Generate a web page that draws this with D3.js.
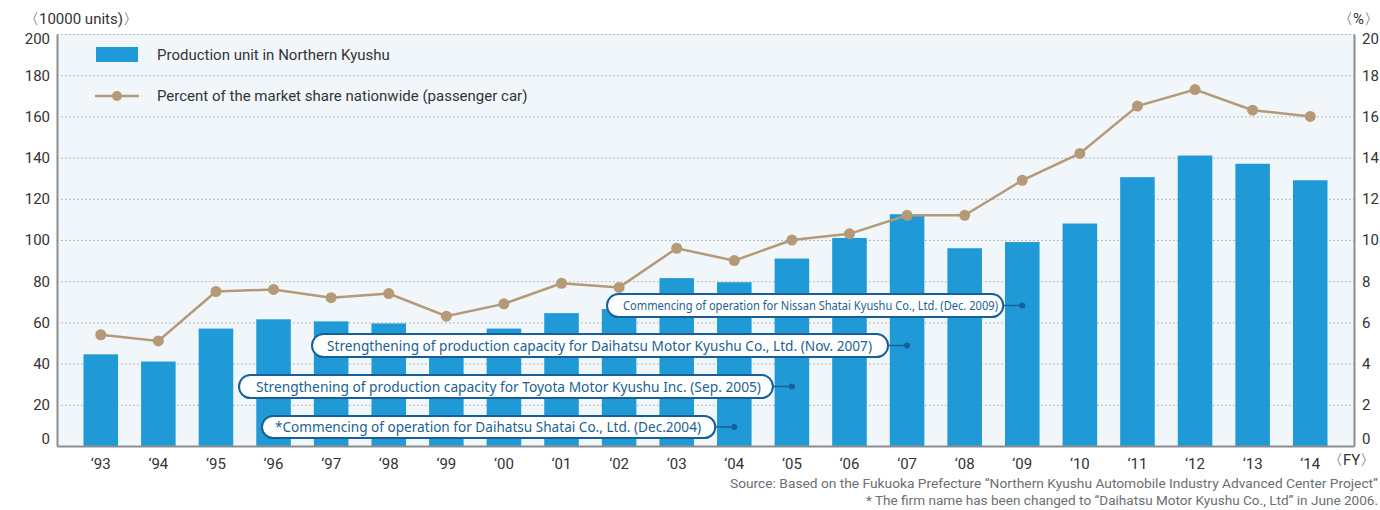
<!DOCTYPE html>
<html>
<head>
<meta charset="utf-8">
<script src="https://cdn.jsdelivr.net/npm/d3@7"></script>
<style>
  body { margin: 0; background: #fff; }
  svg { display: block; }
</style>
</head>
<body>
<script>
// fiscal years (x axis)
var years = ["93", "94", "95", "96", "97", "98", "99", "00", "01", "02", "03",
             "04", "05", "06", "07", "08", "09", "10", "11", "12", "13", "14"];
// production units in Northern Kyushu (10000 units)
var production = [44.5, 41, 57, 61.5, 60.5, 59.5, 48, 57, 64.5, 66.5, 81.5,
                  79.5, 91, 101, 112.5, 96, 99, 108, 130.5, 141, 137, 129];
// market share nationwide, passenger car (%)
var share = [5.4, 5.1, 7.5, 7.6, 7.2, 7.4, 6.3, 6.9, 7.9, 7.7, 9.6,
             9.0, 10.0, 10.3, 11.2, 11.2, 12.9, 14.2, 16.5, 17.3, 16.3, 16.0];
var leftTicks = [0, 20, 40, 60, 80, 100, 120, 140, 160, 180, 200];
var rightTicks = [0, 2, 4, 6, 8, 10, 12, 14, 16, 18, 20];

// event notes and the year each one points at
var noteTexts = [
    "Commencing of operation for Nissan Shatai Kyushu Co., Ltd. (Dec. 2009)",
    "Strengthening of production capacity for Daihatsu Motor Kyushu Co., Ltd. (Nov. 2007)",
    "Strengthening of production capacity for Toyota Motor Kyushu Inc.  (Sep. 2005)",
    "*Commencing of operation for Daihatsu Shatai Co., Ltd. (Dec.2004)"
];
var noteYears = ["09", "07", "05", "04"];

var w = 1380, h = 510;
var plotL = 57, plotR = 1354, plotT = 34, plotB = 446;

var svg = d3.select("body").append("svg")
    .attr("width", w)
    .attr("height", h)
    .style("font-family", "Roboto, 'Noto Sans', sans-serif");

var xScale = d3.scaleBand()
    .domain(years)
    .range([plotL, plotR])
    .paddingInner(0.4)
    .paddingOuter(0.46);

var yLeft = d3.scaleLinear().domain([0, 200]).range([plotB, plotT]);
var yRight = d3.scaleLinear().domain([0, 20]).range([plotB, plotT]);

// plot background
svg.append("rect")
    .attr("x", plotL)
    .attr("y", plotT)
    .attr("width", plotR - plotL)
    .attr("height", plotB - plotT)
    .attr("fill", "#f1f6fb");

// dotted grid
svg.append("g")
    .selectAll("line")
    .data(leftTicks.filter(function (d) { return d > 0; }))
    .enter()
    .append("line")
    .attr("x1", plotL)
    .attr("x2", plotR)
    .attr("y1", function (d) { return yLeft(d) + 0.5; })
    .attr("y2", function (d) { return yLeft(d) + 0.5; })
    .attr("stroke", "#a6a9ad")
    .attr("stroke-width", 1)
    .attr("stroke-dasharray", "1.5,2.5");

// bars
svg.append("g")
    .selectAll("rect")
    .data(production)
    .enter()
    .append("rect")
    .attr("x", function (d, i) { return xScale(years[i]); })
    .attr("y", function (d) { return yLeft(d); })
    .attr("width", xScale.bandwidth())
    .attr("height", function (d) { return yLeft(0) - yLeft(d); })
    .attr("fill", "#1f9ad6");

// share line
var cx = function (d, i) { return xScale(years[i]) + xScale.bandwidth() / 2; };
svg.append("path")
    .datum(share)
    .attr("fill", "none")
    .attr("stroke", "#b49a76")
    .attr("stroke-width", 2.5)
    .attr("d", d3.line()
        .x(cx)
        .y(function (d) { return yRight(d); }));

svg.append("g")
    .selectAll("circle")
    .data(share)
    .enter()
    .append("circle")
    .attr("cx", cx)
    .attr("cy", function (d) { return yRight(d); })
    .attr("r", 5.5)
    .attr("fill", "#b49a76");

// axes
var leftAxis = d3.axisLeft(yLeft).tickValues(leftTicks).tickSize(0).tickPadding(7);
var rightAxis = d3.axisRight(yRight).tickValues(rightTicks).tickSize(0).tickPadding(8);
var bottomAxis = d3.axisBottom(xScale).tickSize(0).tickPadding(12)
    .tickFormat(function (d) { return "\u2018" + d; });

function styleAxis(g) {
    g.select(".domain").attr("stroke", "#8a8d91").attr("stroke-width", 2);
    g.selectAll("text")
        .attr("fill", "#333")
        .attr("font-size", "15px")
        .attr("font-family", "Roboto, sans-serif");
}

// end labels sit inside the plot height: top one lower, bottom one higher
function nudge(d, i, n) {
    if (i === 0) return "-0.2em";
    if (i === n.length - 1) return "0.62em";
    return "0.32em";
}

svg.append("g")
    .attr("transform", "translate(" + plotL + ",0)")
    .call(leftAxis)
    .call(styleAxis)
    .selectAll("text").attr("dy", nudge);

svg.append("g")
    .attr("transform", "translate(" + plotR + ",0)")
    .call(rightAxis)
    .call(styleAxis)
    .selectAll("text").attr("dy", nudge);

svg.append("g")
    .attr("transform", "translate(0," + plotB + ")")
    .call(bottomAxis)
    .call(styleAxis);

// unit labels
svg.append("text")
    .attr("x", 24)
    .attr("y", 24)
    .attr("font-size", "15px")
    .attr("fill", "#333")
    .text("\u300810000 units)\u3009");

svg.append("text")
    .attr("x", 1379)
    .attr("y", 24)
    .attr("text-anchor", "end")
    .attr("font-size", "15px")
    .attr("fill", "#333")
    .text("\u3008%\u3009");

svg.append("text")
    .attr("x", 1328)
    .attr("y", 465)
    .attr("font-size", "15px")
    .attr("fill", "#333")
    .text("\u3008FY\u3009");

// legend
svg.append("rect")
    .attr("x", 96)
    .attr("y", 47)
    .attr("width", 42)
    .attr("height", 15)
    .attr("fill", "#1f9ad6");

svg.append("text")
    .attr("x", 157)
    .attr("y", 60)
    .attr("font-size", "15px")
    .attr("fill", "#333")
    .text("Production unit in Northern Kyushu");

svg.append("line")
    .attr("x1", 95)
    .attr("x2", 139)
    .attr("y1", 96)
    .attr("y2", 96)
    .attr("stroke", "#b49a76")
    .attr("stroke-width", 2.5);

svg.append("circle")
    .attr("cx", 117)
    .attr("cy", 96)
    .attr("r", 5)
    .attr("fill", "#b49a76");

svg.append("text")
    .attr("x", 157)
    .attr("y", 101)
    .attr("font-size", "15px")
    .attr("fill", "#333")
    .text("Percent of the market share nationwide (passenger car)");

// note boxes: left edge, top, height, text start, text width, font size
var noteLayout = [
    { x0: 607, y0: 294, hgt: 23, tx: 623, tw: 375, fs: 12.5 },
    { x0: 312, y0: 334, hgt: 23, tx: 327, tw: 545, fs: 15 },
    { x0: 239, y0: 375, hgt: 23, tx: 256, tw: 505, fs: 15 },
    { x0: 262, y0: 416, hgt: 22, tx: 275, tw: 426, fs: 15 }
];

var notes = svg.append("g")
    .selectAll("g")
    .data(noteTexts)
    .enter()
    .append("g");

notes.each(function (d, i) {
    var g = d3.select(this);
    var lay = noteLayout[i];
    var dotX = xScale(noteYears[i]) + xScale.bandwidth() / 2;
    var x1 = dotX - 19;
    var cy = lay.y0 + lay.hgt / 2;

    g.append("line")
        .attr("x1", x1)
        .attr("x2", dotX)
        .attr("y1", cy)
        .attr("y2", cy)
        .attr("stroke", "#175f98")
        .attr("stroke-width", 1.5);

    g.append("circle")
        .attr("cx", dotX)
        .attr("cy", cy)
        .attr("r", 3)
        .attr("fill", "#175f98");

    // slight darker bottom edge
    g.append("rect")
        .attr("x", lay.x0)
        .attr("y", lay.y0 + 1)
        .attr("width", x1 - lay.x0)
        .attr("height", lay.hgt)
        .attr("rx", lay.hgt / 2)
        .attr("fill", "#175f98");

    g.append("rect")
        .attr("x", lay.x0)
        .attr("y", lay.y0)
        .attr("width", x1 - lay.x0)
        .attr("height", lay.hgt)
        .attr("rx", lay.hgt / 2)
        .attr("fill", "#fff")
        .attr("stroke", "#175f98")
        .attr("stroke-width", 2);

    g.append("text")
        .attr("x", lay.tx)
        .attr("y", cy)
        .attr("dy", "0.36em")
        .attr("font-size", lay.fs + "px")
        .attr("font-family", "'Noto Sans', 'Open Sans', sans-serif")
        .attr("fill", "#1b5f96")
        .attr("textLength", lay.tw)
        .attr("lengthAdjust", "spacingAndGlyphs")
        .text(d);
});

// source notes
svg.append("text")
    .attr("x", 1378)
    .attr("y", 488)
    .attr("text-anchor", "end")
    .attr("font-size", "12.5px")
    .attr("fill", "#6b6e72")
    .attr("textLength", 648)
    .attr("lengthAdjust", "spacingAndGlyphs")
    .text("Source: Based on the Fukuoka Prefecture \u201cNorthern Kyushu Automobile Industry Advanced Center Project\u201d");

svg.append("text")
    .attr("x", 1378)
    .attr("y", 505)
    .attr("text-anchor", "end")
    .attr("font-size", "12.5px")
    .attr("fill", "#6b6e72")
    .attr("textLength", 512)
    .attr("lengthAdjust", "spacingAndGlyphs")
    .text("* The firm name has been changed to \u201cDaihatsu Motor Kyushu Co., Ltd\u201d in June 2006.");
</script>
</body>
</html>
